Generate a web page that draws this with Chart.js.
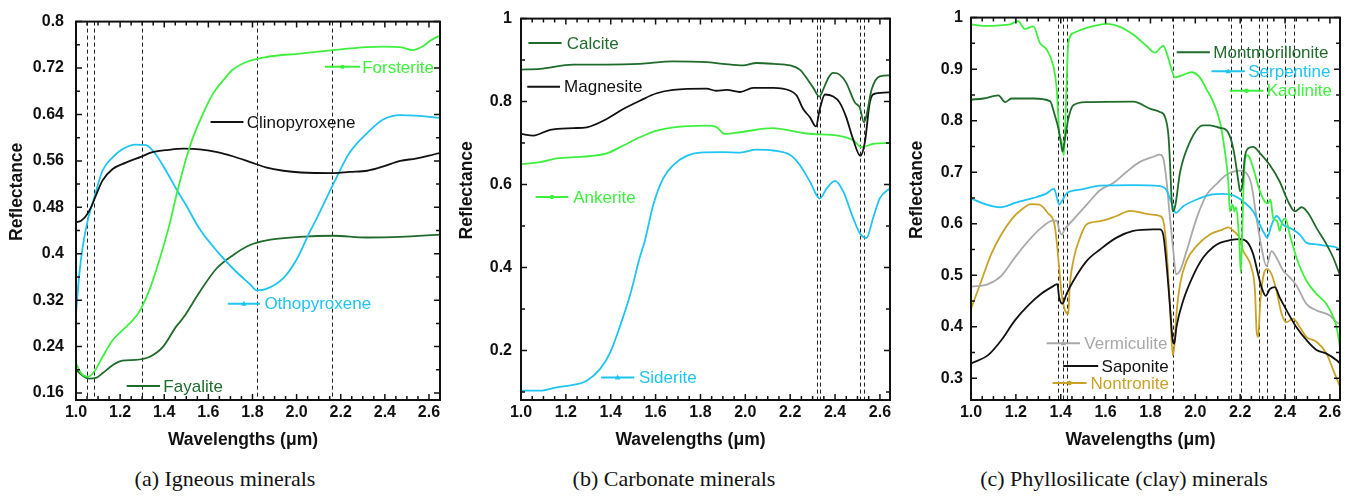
<!DOCTYPE html>
<html>
<head>
<meta charset="utf-8">
<script src="https://cdn.jsdelivr.net/npm/chart.js@4.4.1/dist/chart.umd.min.js"></script>
<style>
  body { margin: 0; background: #fff; width: 1364px; height: 498px; position: relative; overflow: hidden; }
  canvas { position: absolute; top: 0; }
  .cap { position: absolute; top: 467px; line-height: 24px; font-family: 'Liberation Serif', 'Times New Roman', serif;
         font-size: 22px; color: #111; transform: translateX(-50%); white-space: nowrap; }
</style>
</head>
<body>
<canvas id="chartA" width="450" height="455" style="left:0px"></canvas>
<canvas id="chartB" width="450" height="455" style="left:450px"></canvas>
<canvas id="chartC" width="464" height="455" style="left:900px"></canvas>
<div class="cap" style="left:225px">(a) Igneous minerals</div>
<div class="cap" style="left:674px">(b) Carbonate minerals</div>
<div class="cap" style="left:1124px">(c) Phyllosilicate (clay) minerals</div>
<script>
// tick labels
const xTicks = [1.0, 1.2, 1.4, 1.6, 1.8, 2.0, 2.2, 2.4, 2.6];
const yTicksA = [0.16, 0.24, 0.32, 0.4, 0.48, 0.56, 0.64, 0.72, 0.8];
const yTicksB = [0.2, 0.4, 0.6, 0.8, 1];
const yTicksC = [0.3, 0.4, 0.5, 0.6, 0.7, 0.8, 0.9, 1];

// absorption band markers (dashed lines), µm
const bandsA = [1.05, 1.08, 1.30, 1.82, 2.16];
const bandsB = [2.32, 2.335, 2.51, 2.53];
const bandsC = [1.39, 1.41, 1.43, 1.90, 2.16, 2.205, 2.285, 2.32, 2.40, 2.44];

// (a) igneous minerals: [wavelength, reflectance]
const forsterite = [[1.0,0.211],[1.023,0.194],[1.053,0.188],[1.083,0.197],[1.12,0.222],[1.166,0.251],[1.21,0.268],[1.27,0.291],[1.294,0.305],[1.332,0.337],[1.377,0.388],[1.42,0.445],[1.46,0.508],[1.50,0.565],[1.53,0.60],[1.58,0.645],[1.62,0.675],[1.67,0.70],[1.71,0.717],[1.77,0.73],[1.864,0.739],[2.015,0.745],[2.166,0.751],[2.318,0.756],[2.393,0.757],[2.469,0.756],[2.529,0.751],[2.575,0.758],[2.605,0.767],[2.65,0.776]];
const clinopyroxene = [[1.0,0.454],[1.023,0.457],[1.045,0.465],[1.068,0.48],[1.09,0.50],[1.12,0.526],[1.166,0.546],[1.226,0.557],[1.294,0.567],[1.347,0.575],[1.42,0.579],[1.49,0.581],[1.56,0.58],[1.64,0.575],[1.71,0.568],[1.79,0.558],[1.86,0.549],[1.94,0.543],[2.02,0.540],[2.17,0.539],[2.24,0.541],[2.32,0.543],[2.39,0.550],[2.47,0.560],[2.54,0.564],[2.6,0.569],[2.65,0.574]];
const othopyroxene = [[1.0,0.297],[1.015,0.365],[1.03,0.411],[1.053,0.457],[1.083,0.497],[1.12,0.543],[1.166,0.566],[1.21,0.58],[1.27,0.588],[1.317,0.587],[1.362,0.571],[1.408,0.543],[1.46,0.508],[1.5,0.483],[1.56,0.443],[1.64,0.404],[1.71,0.375],[1.79,0.347],[1.82,0.337],[1.86,0.339],[1.94,0.358],[2.0,0.39],[2.06,0.438],[2.09,0.46],[2.17,0.523],[2.24,0.574],[2.32,0.608],[2.39,0.631],[2.47,0.639],[2.54,0.638],[2.65,0.634]];
const fayalite = [[1.0,0.20],[1.03,0.19],[1.06,0.185],[1.09,0.186],[1.12,0.194],[1.166,0.208],[1.21,0.216],[1.27,0.217],[1.332,0.222],[1.393,0.239],[1.453,0.274],[1.487,0.29],[1.562,0.335],[1.638,0.375],[1.713,0.398],[1.789,0.415],[1.864,0.423],[2.015,0.429],[2.166,0.431],[2.318,0.428],[2.469,0.429],[2.65,0.433]];

// (b) carbonate minerals
const calcite = [[1.0,0.877],[1.085,0.879],[1.233,0.889],[1.382,0.889],[1.53,0.891],[1.679,0.897],[1.827,0.895],[1.9,0.891],[1.99,0.887],[2.05,0.893],[2.124,0.891],[2.2,0.887],[2.243,0.877],[2.273,0.857],[2.303,0.833],[2.33,0.812],[2.347,0.829],[2.37,0.857],[2.392,0.869],[2.42,0.865],[2.45,0.845],[2.488,0.798],[2.51,0.786],[2.529,0.75],[2.54,0.766],[2.563,0.829],[2.6,0.861],[2.645,0.863]];
const magnesite = [[1.0,0.722],[1.055,0.718],[1.13,0.732],[1.233,0.736],[1.293,0.738],[1.382,0.758],[1.456,0.782],[1.53,0.802],[1.605,0.82],[1.679,0.828],[1.827,0.831],[1.87,0.826],[1.917,0.828],[1.976,0.823],[2.035,0.833],[2.124,0.833],[2.2,0.826],[2.228,0.815],[2.258,0.782],[2.288,0.762],[2.315,0.74],[2.332,0.782],[2.355,0.817],[2.392,0.812],[2.42,0.798],[2.45,0.762],[2.48,0.71],[2.513,0.669],[2.533,0.702],[2.555,0.798],[2.578,0.819],[2.645,0.822]];
const ankerite = [[1.0,0.649],[1.085,0.654],[1.159,0.663],[1.278,0.667],[1.382,0.675],[1.456,0.694],[1.53,0.714],[1.605,0.73],[1.679,0.738],[1.827,0.742],[1.87,0.739],[1.909,0.722],[1.976,0.726],[2.124,0.736],[2.2,0.730],[2.273,0.723],[2.42,0.717],[2.48,0.707],[2.518,0.69],[2.57,0.698],[2.645,0.70]];
const siderite = [[1.0,0.103],[1.085,0.103],[1.159,0.111],[1.233,0.117],[1.293,0.127],[1.352,0.155],[1.397,0.194],[1.441,0.258],[1.486,0.333],[1.53,0.425],[1.552,0.464],[1.59,0.552],[1.634,0.615],[1.679,0.647],[1.738,0.669],[1.798,0.677],[1.9,0.678],[1.976,0.677],[2.05,0.684],[2.124,0.682],[2.2,0.671],[2.243,0.647],[2.288,0.607],[2.332,0.566],[2.362,0.59],[2.4,0.609],[2.436,0.584],[2.48,0.52],[2.513,0.48],[2.54,0.471],[2.57,0.52],[2.6,0.567],[2.645,0.591]];

// (c) phyllosilicate minerals
const montmorillonite = [[1.0,0.841],[1.055,0.843],[1.122,0.849],[1.152,0.836],[1.18,0.843],[1.278,0.843],[1.352,0.838],[1.374,0.81],[1.39,0.784],[1.40,0.759],[1.408,0.74],[1.419,0.765],[1.434,0.804],[1.456,0.83],[1.515,0.836],[1.723,0.837],[1.8,0.823],[1.842,0.817],[1.865,0.807],[1.88,0.772],[1.887,0.72],[1.894,0.65],[1.899,0.624],[1.91,0.634],[1.932,0.70],[1.976,0.759],[2.035,0.791],[2.065,0.791],[2.11,0.786],[2.14,0.781],[2.162,0.759],[2.177,0.727],[2.192,0.682],[2.2,0.663],[2.21,0.676],[2.22,0.727],[2.235,0.746],[2.258,0.749],[2.288,0.737],[2.332,0.714],[2.376,0.682],[2.414,0.643],[2.444,0.624],[2.474,0.632],[2.503,0.621],[2.54,0.592],[2.585,0.56],[2.615,0.534],[2.645,0.50]];
const serpentine = [[1.0,0.649],[1.07,0.637],[1.13,0.632],[1.2,0.641],[1.278,0.65],[1.337,0.659],[1.37,0.668],[1.38,0.656],[1.393,0.637],[1.404,0.643],[1.426,0.659],[1.486,0.666],[1.575,0.674],[1.723,0.675],[1.842,0.673],[1.864,0.669],[1.874,0.663],[1.89,0.645],[1.902,0.632],[1.912,0.621],[1.946,0.634],[2.006,0.647],[2.065,0.656],[2.124,0.658],[2.17,0.655],[2.214,0.643],[2.258,0.624],[2.288,0.598],[2.31,0.579],[2.32,0.573],[2.34,0.598],[2.362,0.615],[2.392,0.598],[2.421,0.592],[2.466,0.579],[2.496,0.563],[2.54,0.56],[2.585,0.557],[2.63,0.554],[2.645,0.547]];
const kaolinite = [[1.0,0.987],[1.055,0.984],[1.13,0.985],[1.174,0.987],[1.21,0.993],[1.24,0.978],[1.278,0.983],[1.307,0.951],[1.337,0.938],[1.367,0.906],[1.382,0.862],[1.393,0.778],[1.404,0.759],[1.414,0.733],[1.423,0.829],[1.434,0.951],[1.456,0.97],[1.516,0.98],[1.605,0.988],[1.664,0.982],[1.723,0.967],[1.783,0.945],[1.82,0.932],[1.857,0.945],[1.872,0.932],[1.894,0.9],[1.909,0.884],[1.946,0.889],[1.983,0.894],[2.02,0.884],[2.05,0.861],[2.08,0.836],[2.11,0.797],[2.132,0.74],[2.147,0.682],[2.154,0.624],[2.166,0.637],[2.174,0.624],[2.181,0.632],[2.196,0.566],[2.203,0.505],[2.21,0.598],[2.217,0.695],[2.228,0.733],[2.24,0.73],[2.258,0.708],[2.288,0.663],[2.31,0.643],[2.325,0.64],[2.335,0.647],[2.347,0.611],[2.365,0.605],[2.376,0.586],[2.388,0.605],[2.402,0.61],[2.421,0.579],[2.451,0.534],[2.496,0.489],[2.54,0.464],[2.585,0.444],[2.615,0.419],[2.63,0.399],[2.645,0.36]];
const vermiculite = [[1.0,0.478],[1.076,0.483],[1.135,0.499],[1.195,0.534],[1.254,0.566],[1.313,0.592],[1.365,0.606],[1.382,0.606],[1.393,0.589],[1.404,0.579],[1.419,0.59],[1.456,0.608],[1.516,0.637],[1.575,0.665],[1.634,0.679],[1.694,0.701],[1.753,0.72],[1.813,0.73],[1.842,0.734],[1.857,0.727],[1.872,0.682],[1.887,0.611],[1.902,0.547],[1.914,0.502],[1.932,0.509],[1.961,0.547],[2.006,0.611],[2.05,0.656],[2.094,0.677],[2.139,0.695],[2.199,0.703],[2.228,0.698],[2.25,0.676],[2.273,0.611],[2.295,0.554],[2.317,0.518],[2.34,0.547],[2.362,0.534],[2.392,0.509],[2.421,0.496],[2.451,0.48],[2.496,0.444],[2.54,0.432],[2.6,0.422],[2.63,0.409],[2.645,0.406]];
const saponite = [[1.0,0.329],[1.076,0.345],[1.135,0.374],[1.195,0.412],[1.254,0.441],[1.313,0.464],[1.367,0.479],[1.385,0.483],[1.393,0.457],[1.408,0.445],[1.426,0.464],[1.456,0.489],[1.516,0.528],[1.575,0.55],[1.649,0.573],[1.723,0.586],[1.813,0.589],[1.842,0.589],[1.857,0.579],[1.869,0.534],[1.885,0.451],[1.899,0.374],[1.906,0.367],[1.916,0.40],[1.946,0.451],[1.991,0.50],[2.036,0.535],[2.08,0.555],[2.11,0.563],[2.154,0.568],[2.199,0.57],[2.228,0.566],[2.258,0.541],[2.28,0.502],[2.295,0.477],[2.314,0.46],[2.332,0.473],[2.355,0.477],[2.376,0.457],[2.407,0.432],[2.451,0.399],[2.496,0.374],[2.54,0.355],[2.585,0.348],[2.63,0.335],[2.645,0.329]];
const nontronite = [[1.0,0.435],[1.046,0.489],[1.09,0.541],[1.135,0.579],[1.18,0.608],[1.224,0.627],[1.268,0.638],[1.305,0.637],[1.342,0.621],[1.372,0.599],[1.382,0.566],[1.393,0.515],[1.404,0.464],[1.419,0.432],[1.434,0.425],[1.44,0.477],[1.456,0.528],[1.486,0.573],[1.516,0.599],[1.575,0.605],[1.649,0.615],[1.709,0.625],[1.798,0.618],[1.842,0.615],[1.857,0.606],[1.869,0.567],[1.879,0.502],[1.889,0.425],[1.899,0.345],[1.906,0.36],[1.916,0.425],[1.932,0.483],[1.961,0.528],[2.006,0.557],[2.065,0.579],[2.124,0.589],[2.147,0.593],[2.17,0.586],[2.192,0.576],[2.214,0.547],[2.236,0.531],[2.25,0.515],[2.266,0.47],[2.273,0.393],[2.28,0.38],[2.29,0.451],[2.305,0.502],[2.32,0.512],[2.34,0.502],[2.362,0.47],[2.385,0.425],[2.407,0.409],[2.436,0.416],[2.466,0.399],[2.496,0.38],[2.54,0.371],[2.585,0.348],[2.615,0.316],[2.645,0.284]];

const C = { black: '#111111', cyan: '#1ec4f2', lime: '#3ef03e', forest: '#1f6b2b', gray: '#a8a8a8', gold: '#c9a227' };
const SANS = '"Liberation Sans", Arial, sans-serif';

// frame with inward ticks on all sides, dashed band lines, in-plot legend, axis titles
const framePlugin = {
  id: 'frame',
  beforeDatasetsDraw(chart, args, o) {
    const { ctx, chartArea: a, scales: { x } } = chart;
    ctx.save();
    ctx.strokeStyle = '#222';
    ctx.lineWidth = 1;
    ctx.setLineDash([4, 3]);
    o.bands.forEach(w => {
      const px = Math.round(x.getPixelForValue(w)) + 0.5;
      ctx.beginPath(); ctx.moveTo(px, a.top); ctx.lineTo(px, a.bottom); ctx.stroke();
    });
    ctx.restore();
  },
  afterDraw(chart, args, o) {
    const { ctx, chartArea: a, scales: { x, y } } = chart;
    ctx.save();
    ctx.strokeStyle = '#111';
    ctx.lineWidth = 1.5;
    const isMajor = (v, list) => list.some(t => Math.abs(t - v) < 1e-6);
    // x ticks
    for (let i = Math.ceil(x.min / o.xMinor - 1e-6); i * o.xMinor <= x.max + 1e-6; i++) {
      const v = i * o.xMinor, px = x.getPixelForValue(v), len = isMajor(v, xTicks) ? 6 : 4;
      ctx.beginPath();
      ctx.moveTo(px, a.bottom); ctx.lineTo(px, a.bottom - len);
      ctx.moveTo(px, a.top); ctx.lineTo(px, a.top + len);
      ctx.stroke();
    }
    // y ticks
    for (let i = Math.ceil(y.min / o.yMinor - 1e-6); i * o.yMinor <= y.max + 1e-6; i++) {
      const v = i * o.yMinor, py = y.getPixelForValue(v), len = isMajor(v, o.yTicks) ? 6 : 4;
      ctx.beginPath();
      ctx.moveTo(a.left, py); ctx.lineTo(a.left + len, py);
      ctx.moveTo(a.right, py); ctx.lineTo(a.right - len, py);
      ctx.stroke();
    }
    ctx.lineWidth = 2;
    ctx.strokeRect(a.left, a.top, a.right - a.left, a.bottom - a.top);

    // legend entries written inside the plot
    ctx.font = '17px ' + SANS;
    ctx.textBaseline = 'middle';
    ctx.textAlign = 'left';
    o.legend.forEach(e => {
      const py = y.getPixelForValue(e.y);
      const x1 = x.getPixelForValue(e.x1), x2 = x.getPixelForValue(e.x2);
      ctx.strokeStyle = e.color; ctx.fillStyle = e.color; ctx.lineWidth = 2;
      ctx.beginPath(); ctx.moveTo(x1, py); ctx.lineTo(x2, py); ctx.stroke();
      const mx = (x1 + x2) / 2;
      if (e.marker === 'circle') {
        ctx.beginPath(); ctx.arc(mx, py, 2.2, 0, Math.PI * 2); ctx.fill();
      } else if (e.marker === 'triangle') {
        ctx.beginPath(); ctx.moveTo(mx, py - 2.8); ctx.lineTo(mx + 2.8, py + 2); ctx.lineTo(mx - 2.8, py + 2); ctx.closePath(); ctx.fill();
      }
      ctx.fillStyle = e.textColor || e.color;
      ctx.fillText(e.label, x.getPixelForValue(e.tx), py + 1);
    });

    // axis titles
    ctx.fillStyle = '#111';
    ctx.font = 'bold 17.5px ' + SANS;
    ctx.textAlign = 'center';
    ctx.fillText('Wavelengths (μm)', (a.left + a.right) / 2 - 15, 440);
    ctx.translate(17.5, (a.top + a.bottom) / 2 - 19);
    ctx.rotate(-Math.PI / 2);
    ctx.fillText('Reflectance', 0, 0);
    ctx.restore();
  }
};

function buildChart(id, p) {
  const tickFont = { family: SANS, size: 16, weight: 'bold' };
  return new Chart(document.getElementById(id), {
    type: 'line',
    data: {
      datasets: p.series.map(s => ({
        label: s.label,
        data: s.pts.map(([wx, wy]) => ({ x: wx, y: wy })),
        borderColor: s.color,
        borderWidth: 1.8,
        pointRadius: 0,
        cubicInterpolationMode: 'monotone',
        fill: false
      }))
    },
    options: {
      responsive: false,
      animation: false,
      events: [],
      layout: { padding: p.padding },
      plugins: { legend: { display: false }, tooltip: { enabled: false }, frame: p.frame },
      scales: {
        x: {
          type: 'linear', min: 1.0, max: p.xMax,
          grid: { display: false, drawTicks: false }, border: { display: false },
          afterBuildTicks: ax => { ax.ticks = xTicks.map(v => ({ value: v })); },
          afterFit: ax => { ax.height = 55; },
          ticks: { autoSkip: false, maxRotation: 0, padding: 3, color: '#111', font: tickFont,
                   callback: v => v.toFixed(1) }
        },
        y: {
          type: 'linear', min: p.yMin, max: p.yMax,
          grid: { display: false, drawTicks: false }, border: { display: false },
          afterBuildTicks: ax => { ax.ticks = p.frame.yTicks.map(v => ({ value: v })); },
          afterFit: ax => { ax.width = p.yWidth; },
          ticks: { autoSkip: false, padding: p.yPad, color: '#111', font: tickFont,
                   callback: v => String(+v.toFixed(2)) }
        }
      }
    },
    plugins: [framePlugin]
  });
}

// (a) Igneous minerals
buildChart('chartA', {
  xMax: 2.65, yMin: 0.148, yMax: 0.8, yWidth: 76, yPad: 12,
  padding: { top: 20, right: 10, left: 0, bottom: 0 },
  series: [
    { label: 'Forsterite', pts: forsterite, color: C.lime },
    { label: 'Clinopyroxene', pts: clinopyroxene, color: C.black },
    { label: 'Othopyroxene', pts: othopyroxene, color: C.cyan },
    { label: 'Fayalite', pts: fayalite, color: C.forest }
  ],
  frame: {
    bands: bandsA, yTicks: yTicksA, xMinor: 0.05, yMinor: 0.04,
    legend: [
      { label: 'Forsterite', color: C.lime, y: 0.722, x1: 2.129, x2: 2.287, tx: 2.297, marker: 'circle' },
      { label: 'Clinopyroxene', color: C.black, y: 0.627, x1: 1.61, x2: 1.759, tx: 1.774 },
      { label: 'Othopyroxene', color: C.cyan, y: 0.314, x1: 1.688, x2: 1.834, tx: 1.854, marker: 'triangle' },
      { label: 'Fayalite', color: C.forest, y: 0.172, x1: 1.23, x2: 1.381, tx: 1.396 }
    ]
  }
});

// (b) Carbonate minerals
buildChart('chartB', {
  xMax: 2.645, yMin: 0.0805, yMax: 1.0, yWidth: 71, yPad: 9,
  padding: { top: 15, right: 10, left: 0, bottom: 0 },
  series: [
    { label: 'Calcite', pts: calcite, color: C.forest },
    { label: 'Magnesite', pts: magnesite, color: C.black },
    { label: 'Ankerite', pts: ankerite, color: C.lime },
    { label: 'Siderite', pts: siderite, color: C.cyan }
  ],
  frame: {
    bands: bandsB, yTicks: yTicksB, xMinor: 0.05, yMinor: 0.1,
    legend: [
      { label: 'Calcite', color: C.forest, y: 0.941, x1: 1.033, x2: 1.181, tx: 1.204 },
      { label: 'Magnesite', color: C.black, y: 0.836, x1: 1.028, x2: 1.174, tx: 1.192 },
      { label: 'Ankerite', color: C.lime, y: 0.570, x1: 1.065, x2: 1.211, tx: 1.233, marker: 'circle' },
      { label: 'Siderite', color: C.cyan, y: 0.135, x1: 1.357, x2: 1.505, tx: 1.526, marker: 'triangle' }
    ]
  }
});

// (c) Phyllosilicate (clay) minerals
buildChart('chartC', {
  xMax: 2.645, yMin: 0.258, yMax: 1.0, yWidth: 71, yPad: 8,
  padding: { top: 15, right: 24, left: 0, bottom: 0 },
  series: [
    { label: 'Montmorillonite', pts: montmorillonite, color: C.forest },
    { label: 'Kaolinite', pts: kaolinite, color: C.lime },
    { label: 'Serpentine', pts: serpentine, color: C.cyan },
    { label: 'Vermiculite', pts: vermiculite, color: C.gray },
    { label: 'Saponite', pts: saponite, color: C.black },
    { label: 'Nontronite', pts: nontronite, color: C.gold }
  ],
  frame: {
    bands: bandsC, yTicks: yTicksC, xMinor: 0.05, yMinor: 0.05,
    legend: [
      { label: 'Montmorillonite', color: C.forest, y: 0.933, x1: 1.917, x2: 2.065, tx: 2.08 },
      { label: 'Serpentine', color: C.cyan, y: 0.896, x1: 2.072, x2: 2.221, tx: 2.236, marker: 'triangle' },
      { label: 'Kaolinite', color: C.lime, y: 0.858, x1: 2.154, x2: 2.303, tx: 2.318, marker: 'circle' },
      { label: 'Vermiculite', color: C.gray, y: 0.368, x1: 1.337, x2: 1.486, tx: 1.505, marker: 'triangle' },
      { label: 'Saponite', color: C.black, y: 0.324, x1: 1.411, x2: 1.567, tx: 1.582 },
      { label: 'Nontronite', color: C.gold, y: 0.291, x1: 1.364, x2: 1.515, tx: 1.533, marker: 'circle' }
    ]
  }
});
</script>
</body>
</html>
